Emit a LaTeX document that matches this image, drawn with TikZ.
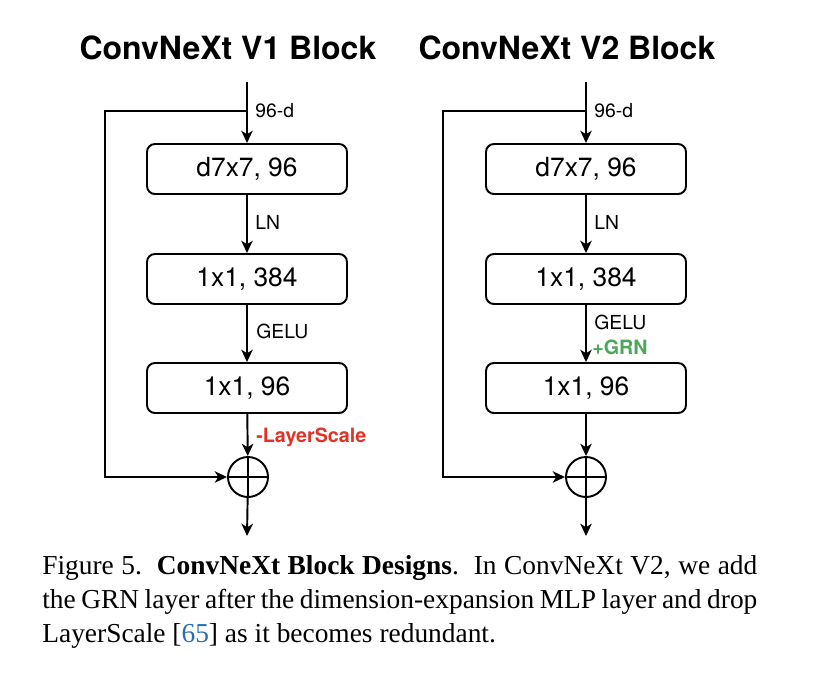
\documentclass[tikz,border=0pt]{standalone}
\usepackage{fontspec}
\setmainfont{Liberation Serif}
\newfontfamily\diagfont{TeX Gyre Heros}
\usetikzlibrary{arrows.meta}
\definecolor{dropred}{RGB}{222,52,40}
\definecolor{addgreen}{RGB}{76,168,88}
\definecolor{citeblue}{RGB}{40,110,180}
\tikzset{
  layer/.style={draw, line width=1.1pt, rounded corners=4.5pt, minimum width=4cm, minimum height=1cm, font=\diagfont\fontsize{15}{18}\selectfont},
  plus/.style={draw, circle, line width=1.1pt, minimum size=0.8cm, inner sep=0pt},
  flow/.style={line width=1.1pt, -{Stealth[length=7pt,width=6.5pt,inset=2pt]}},
  tag/.style={anchor=west, inner sep=0pt, font=\diagfont\fontsize{11}{13}\selectfont},
  title/.style={font=\diagfont\bfseries\fontsize{18.2}{21}\selectfont}
}
\begin{document}
\begin{tikzpicture}[x=0.02cm, y=-0.02cm]
\useasboundingbox (0,0) rectangle (814,674);
% ---- V1 block
\node[title] (t1) at (228,48) {ConvNeXt V1 Block};
\coordinate (in1) at (247,82);
\coordinate (split1) at (247,111);
\coordinate (out1) at (247,536);
\node[layer] (a1) at (247,169) {d7x7, 96};
\node[layer] (b1) at (247,279) {1x1, 384};
\node[layer] (c1) at (247,388) {1x1, 96};
\node[plus] (add1) at (248,477) {};
\draw[line width=1.1pt] (add1.north) -- (add1.south) (add1.west) -- (add1.east);
\draw[flow] (in1) -- (a1);
\draw[flow] (a1) -- (b1);
\draw[flow] (b1) -- (c1);
\draw[flow] (c1) -- (add1);
\draw[flow] (add1) -- (out1);
\draw[flow] (split1) -- (105,111) |- (add1.west);
\node[tag] (d1) at (255,111) {96-d};
\node[tag] (ln1) at (255,222) {LN};
\node[tag] (g1) at (256,331) {GELU};
\node[tag, text=dropred, font=\diagfont\bfseries\fontsize{11.2}{13}\selectfont] (ls1) at (256,437) {-LayerScale};
% ---- V2 block
\node[title] (t2) at (567,48) {ConvNeXt V2 Block};
\coordinate (in2) at (586,82);
\coordinate (split2) at (586,111);
\coordinate (out2) at (586,536);
\node[layer] (a2) at (586,169) {d7x7, 96};
\node[layer] (b2) at (586,279) {1x1, 384};
\node[layer] (c2) at (586,388) {1x1, 96};
\node[plus] (add2) at (586,477) {};
\draw[line width=1.1pt] (add2.north) -- (add2.south) (add2.west) -- (add2.east);
\draw[flow] (in2) -- (a2);
\draw[flow] (a2) -- (b2);
\draw[flow] (b2) -- (c2);
\draw[flow] (c2) -- (add2);
\draw[flow] (add2) -- (out2);
\draw[flow] (split2) -- (443,111) |- (add2.west);
\node[tag] (d2) at (594,111) {96-d};
\node[tag] (ln2) at (594,222) {LN};
\node[tag] (g2) at (594,322) {GELU};
\node[tag, text=addgreen, font=\diagfont\bfseries\fontsize{11.2}{13}\selectfont] (grn2) at (592,347) {+GRN};
% ---- caption
\node[anchor=north west, inner sep=0pt, text width=715*0.02cm, align=justify, font=\fontsize{15.6}{19.4}\selectfont] (cap) at (42,555)
{Figure 5.\ \ \textbf{ConvNeXt Block Designs}.\ \ In ConvNeXt V2, we add the GRN layer after the dimension-expansion MLP layer and drop LayerScale [{\color{citeblue}65}] as it becomes redundant.};
\end{tikzpicture}
\end{document}
